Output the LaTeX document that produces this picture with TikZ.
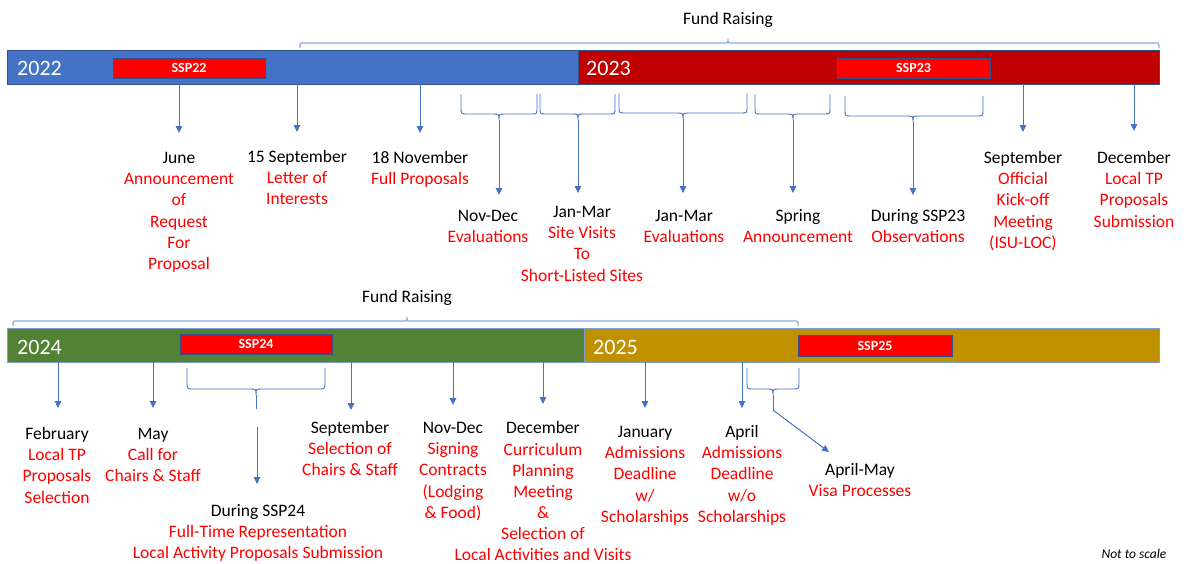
\documentclass[tikz,border=0pt]{standalone}
\usepackage{fontspec}
\setmainfont{Carlito}
\usetikzlibrary{arrows.meta}
\definecolor{c22}{HTML}{4472C4}
\definecolor{c23}{HTML}{C00000}
\definecolor{c24}{HTML}{548235}
\definecolor{c25}{HTML}{BF9000}
\definecolor{sspred}{HTML}{FF0000}
\definecolor{lnblue}{HTML}{4472C4}
\definecolor{fundblue}{HTML}{8FAADC}
\definecolor{edgetop}{HTML}{2F528F}
\definecolor{edgebot}{HTML}{7F9FCF}
\newcommand\lblfont{\fontsize{17.5}{21.3}\selectfont}
\newcommand\blk[1]{\textcolor{black}{#1}}
% brace under a bar, pip pointing down: x1, x2, xm, ytop, yline, name
\newcommand\downbrace[6]{%
  \draw[brc] (#1,#4) -- (#1,#5-6) .. controls (#1,#5) .. (#1+6,#5) -- (#3-6,#5)
     .. controls (#3,#5) .. (#3,#5+6) .. controls (#3,#5) .. (#3+6,#5)
     -- (#2-6,#5) .. controls (#2,#5) .. (#2,#5-6) -- (#2,#4);
  \coordinate (#6) at (#3,#5+6);}
% brace above a bar, pip pointing up: x1, x2, xm, yline, name
\newcommand\upbrace[5]{%
  \draw[fundbrc] (#1,#4+5) .. controls (#1,#4) .. (#1+4,#4) -- (#3-4,#4)
     .. controls (#3,#4) .. (#3,#4-4) .. controls (#3,#4) .. (#3+4,#4)
     -- (#2-4,#4) .. controls (#2,#4) .. (#2,#4+5);
  \coordinate (#5) at (#3,#4-4);}
\begin{document}
\begin{tikzpicture}[x=1pt,y=-1pt,
  bar/.style={rectangle, inner sep=0pt, line width=0.8pt},
  sspbox/.style={rectangle, fill=sspred, draw=edgetop, line width=0.7pt, inner sep=0pt,
     text=white, font=\fontsize{14}{16}\selectfont\bfseries},
  year/.style={anchor=west, inner sep=0pt, text=white, font=\fontsize{22}{26}\selectfont},
  lbl/.style={anchor=north, align=center, inner sep=0pt, font=\lblfont, text=sspred},
  arr/.style={draw=lnblue, line width=1pt, -{Triangle[width=6.5pt,length=7pt]}},
  brc/.style={draw=lnblue, line width=0.9pt},
  fundbrc/.style={draw=fundblue, line width=1.2pt}]
\useasboundingbox (0,0) rectangle (1184,563);

% ---------- top bar ----------
\node[bar, fill=c22, draw=edgetop, minimum width=571pt, minimum height=34pt] (bar22) at (292.5,67) {};
\node[bar, fill=c23, draw=edgetop, minimum width=581pt, minimum height=34pt] (bar23) at (868.5,67) {};
\node[year] (y22) at (17,68) {2022};
\node[year] (y23) at (586,68) {2023};
\node[sspbox, minimum width=152pt, minimum height=20pt] (ssp22) at (189,68) {SSP22};
\node[sspbox, minimum width=153pt, minimum height=20pt] (ssp23) at (913.5,68) {SSP23};

\upbrace{300}{1159}{728}{43}{fund1}
\node[anchor=north, inner sep=0pt, font=\lblfont] (fundtxt1) at (728,9) {\strut Fund Raising};

% top labels
\node[lbl] (june) at (179,148) {\strut\blk{June}\\Announcement\\of\\Request\\For\\Proposal};
\node[lbl] (sep15) at (297,147) {\strut\blk{15 September}\\Letter of\\Interests};
\node[lbl] (nov18) at (420,148) {\strut\blk{18 November}\\Full Proposals};
\node[lbl] (novdec) at (488,206) {\strut\blk{Nov-Dec}\\Evaluations};
\node[lbl] (janmar1) at (582,202) {\strut\blk{Jan-Mar}\\Site Visits\\To\\Short-Listed Sites};
\node[lbl] (janmar2) at (684,206) {\strut\blk{Jan-Mar}\\Evaluations};
\node[lbl] (spring) at (798,206) {\strut\blk{Spring}\\Announcement};
\node[lbl] (during23) at (918,206) {\strut\blk{During SSP23}\\Observations};
\node[lbl] (sep23) at (1023,148) {\strut\blk{September}\\Official\\Kick-off\\Meeting\\(ISU-LOC)};
\node[lbl] (dec23) at (1134,148) {\strut\blk{December}\\Local TP\\Proposals\\Submission};

% top arrows
\coordinate (tJune) at (179,133);
\coordinate (tSep15) at (297,132);
\coordinate (tNov18) at (420,133);
\coordinate (tSep23) at (1023,132);
\coordinate (tDec23) at (1134,131);
\draw[arr] (bar22.south -| tJune) -- (tJune);
\draw[arr] (bar22.south -| tSep15) -- (tSep15);
\draw[arr] (bar22.south -| tNov18) -- (tNov18);
\draw[arr] (bar23.south -| tSep23) -- (tSep23);
\draw[arr] (bar23.south -| tDec23) -- (tDec23);

% braces under top bar
\downbrace{461}{537}{499}{94}{114}{pB1}
\downbrace{540}{615}{578}{94}{114}{pB2}
\downbrace{619}{747}{683}{93}{113}{pB3}
\downbrace{755}{830}{793}{94}{114}{pB4}
\downbrace{845}{983}{913}{96}{116}{pB5}
\coordinate (tB1) at (499,195);
\coordinate (tB2) at (578,193);
\coordinate (tB3) at (683,193);
\coordinate (tB4) at (793,193);
\coordinate (tB5) at (913,195);
\draw[arr] (pB1) -- (tB1);
\draw[arr] (pB2) -- (tB2);
\draw[arr] (pB3) -- (tB3);
\draw[arr] (pB4) -- (tB4);
\draw[arr] (pB5) -- (tB5);

% ---------- bottom bar ----------
\node[bar, fill=c24, draw=edgebot, minimum width=577pt, minimum height=34pt] (bar24) at (295.5,345) {};
\node[bar, fill=c25, draw=edgebot, minimum width=575pt, minimum height=34pt] (bar25) at (871.5,345) {};
\node[year] (y24) at (17,347) {2024};
\node[year] (y25) at (593,347) {2025};
\node[sspbox, minimum width=152pt, minimum height=20pt] (ssp24) at (256,344) {SSP24};
\node[sspbox, minimum width=154pt, minimum height=21pt] (ssp25) at (875,345.5) {SSP25};

\upbrace{13}{798}{407}{321}{fund2}
\node[anchor=north, inner sep=0pt, font=\lblfont] (fundtxt2) at (407,287) {\strut Fund Raising};

% bottom labels
\node[lbl] (feb) at (57,424) {\strut\blk{February}\\Local TP\\Proposals\\Selection};
\node[lbl] (may) at (153,424) {\strut\blk{May}\\Call for\\Chairs \& Staff};
\node[lbl] (sep24) at (350,418) {\strut\blk{September}\\Selection of\\Chairs \& Staff};
\node[lbl] (during24) at (258,501) {\strut\blk{During SSP24}\\Full-Time Representation\\Local Activity Proposals Submission};
\node[lbl] (novdec24) at (453,418) {\strut\blk{Nov-Dec}\\Signing\\Contracts\\(Lodging\\\& Food)};
\node[lbl, font=\fontsize{17.5}{21.1}\selectfont] (dec24) at (543,419) {\strut\blk{December}\\Curriculum\\Planning\\Meeting\\\&\\Selection of\\Local Activities and Visits};
\node[lbl] (jan25) at (645,422) {\strut\blk{January}\\Admissions\\Deadline\\w/\\Scholarships};
\node[lbl] (apr25) at (742,422) {\strut\blk{April}\\Admissions\\Deadline\\w/o\\Scholarships};
\node[lbl] (aprmay) at (860,460) {\strut\blk{April-May}\\Visa Processes};
\node[inner sep=0pt, font=\fontsize{13.5}{16}\selectfont\itshape] (nts) at (1134,554) {Not to scale};

% bottom arrows
\coordinate (tFeb) at (58,408);
\coordinate (tMay) at (153,408);
\coordinate (tSep24) at (351,410);
\coordinate (tNovDec24) at (453,405);
\coordinate (tDec24) at (543,404);
\coordinate (tJan25) at (645,408);
\coordinate (tApr25) at (742,408);
\draw[arr] (bar24.south -| tFeb) -- (tFeb);
\draw[arr] (bar24.south -| tMay) -- (tMay);
\draw[arr] (bar24.south -| tSep24) -- (tSep24);
\draw[arr] (bar24.south -| tNovDec24) -- (tNovDec24);
\draw[arr] (bar24.south -| tDec24) -- (tDec24);
\draw[arr] (bar25.south -| tJan25) -- (tJan25);
\draw[arr] (bar25.south -| tApr25) -- (tApr25);

% braces under bottom bar
\downbrace{187}{325}{256}{368}{389}{pB6}
\draw[brc] (pB6) -- (256,409);
\coordinate (sB6) at (257,427);
\coordinate (tB6) at (257,484);
\draw[arr] (sB6) -- (tB6);
\downbrace{747}{799}{773}{368}{389}{pB7}
\draw[brc] (pB7) -- (773,410) coordinate (kB7);
\coordinate (tB7) at (829,452);
\draw[arr] (kB7) -- (tB7);
\end{tikzpicture}
\end{document}
